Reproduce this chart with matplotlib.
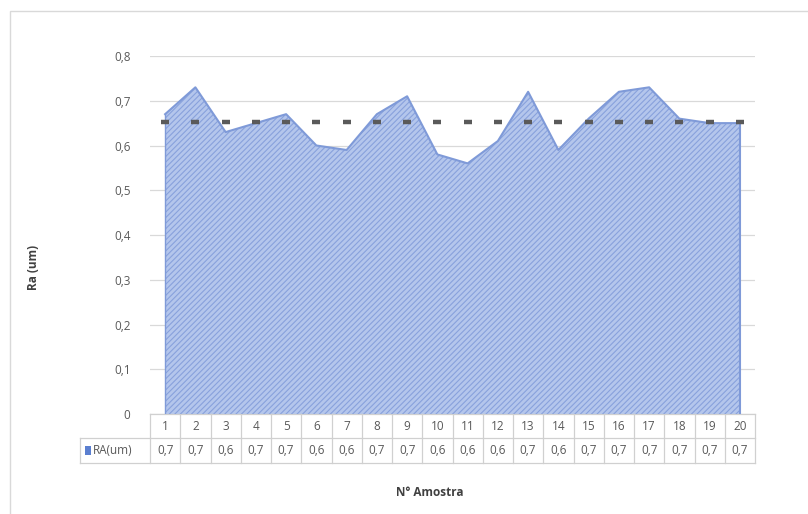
import matplotlib
matplotlib.use("Agg")
import matplotlib.pyplot as plt
import matplotlib.transforms as mtransforms
from matplotlib.patches import Rectangle
from decimal import Decimal, ROUND_HALF_UP

# Surface roughness samples
amostras = list(range(1, 21))
ra_um = [0.67, 0.73, 0.63, 0.65, 0.67, 0.60, 0.59, 0.67, 0.71, 0.58,
         0.56, 0.61, 0.72, 0.59, 0.66, 0.72, 0.73, 0.66, 0.65, 0.65]
yticks = [0.0, 0.1, 0.2, 0.3, 0.4, 0.5, 0.6, 0.7, 0.8]
serie_nome = "RA(um)"
ylabel = "Ra (um)"
xlabel = "N° Amostra"

media = sum(ra_um) / len(ra_um)

def fmt1(v):
    d = Decimal(str(v)).quantize(Decimal("0.1"), rounding=ROUND_HALF_UP)
    return str(d).replace(".", ",")

def fmt_tick(v):
    return f"{v:.1f}".replace(".", ",") if v != 0 else "0"

plt.rcParams["font.family"] = ["Open Sans", "DejaVu Sans"]
plt.rcParams["hatch.linewidth"] = 0.8

FS = 8.5
W, H = 808, 514
fig = plt.figure(figsize=(W / 100, H / 100), dpi=100)
fig.patch.set_facecolor("white")

# chart border
fig.add_artist(Rectangle((10 / W, -0.02), 1.0, 1 - 11 / H + 0.02,
                         transform=fig.transFigure, fill=False,
                         edgecolor="#d9d9d9", linewidth=1.0))

x0, x1, y0, y1 = 150, 755, 414, 56
ax = fig.add_axes([x0 / W, 1 - y0 / H, (x1 - x0) / W, (y0 - y1) / H])
ax.set_xlim(0.5, 20.5)
ax.set_ylim(0, 0.8)
for s in ax.spines.values():
    s.set_visible(False)

ax.set_yticks(yticks)
ax.set_yticklabels([fmt_tick(v) for v in yticks])
ax.tick_params(axis="y", length=0, pad=14, labelsize=FS, labelcolor="#595959")
ax.set_xticks([])
ax.yaxis.grid(True, color="#d9d9d9", linewidth=0.9)
ax.set_axisbelow(True)

# hatched area series
ax.fill_between(amostras, ra_um, 0, facecolor="#b4c6ec", edgecolor="none", zorder=2)
ax.fill_between(amostras, ra_um, 0, facecolor="none", edgecolor="#88a1dc",
                hatch="//////", linewidth=0, zorder=3)
ax.plot(amostras, ra_um, color="#7f9ad8", linewidth=1.5, zorder=4)
ax.plot([1, 1], [0, ra_um[0]], color="#7f9ad8", linewidth=1.0, zorder=4)
ax.plot([20, 20], [0, ra_um[-1]], color="#7f9ad8", linewidth=1.5, zorder=4)

# mean markers
ax.plot(amostras, [media] * len(amostras), linestyle="none", marker="_",
        markersize=5.5, markeredgewidth=3.2, color="#5a5a5a", zorder=5)

ax.set_ylabel(ylabel, fontsize=FS, fontweight="bold", color="#404040")
ax.yaxis.set_label_coords((40 - x0) / (x1 - x0), 0.41)

# data table under the plot
trans = mtransforms.blended_transform_factory(ax.transData, ax.transAxes)
hpx = y0 - y1
r0, r1, r2 = 0.0, -24 / hpx, -49 / hpx
legx = 0.5 + (80 - x0) / ((x1 - x0) / 20)
gc = "#d0d0d0"
kw = dict(transform=trans, color=gc, linewidth=0.9, clip_on=False)
ax.plot([0.5, 20.5], [r0, r0], **kw)
ax.plot([legx, 20.5], [r1, r1], **kw)
ax.plot([legx, 20.5], [r2, r2], **kw)
for i in range(21):
    ax.plot([0.5 + i, 0.5 + i], [r0, r2], **kw)
ax.plot([legx, legx], [r1, r2], **kw)

tkw = dict(transform=trans, ha="center", va="center", fontsize=FS,
           color="#595959", clip_on=False)
for a, v in zip(amostras, ra_um):
    ax.text(a, (r0 + r1) / 2, str(a), **tkw)
    ax.text(a, (r1 + r2) / 2, fmt1(v), **tkw)

ax.add_patch(Rectangle((legx + 0.18, (r1 + r2) / 2 - 0.012), 0.2, 0.024,
                       transform=trans, facecolor="#5b7fd0", edgecolor="none",
                       clip_on=False))
ax.text(legx + 0.43, (r1 + r2) / 2, serie_nome, transform=trans, ha="left",
        va="center", fontsize=FS, color="#595959", clip_on=False)

fig.text(430 / W, 1 - 492 / H, xlabel, ha="center", va="center",
         fontsize=FS, fontweight="bold", color="#404040")

fig.savefig("out.png", dpi=100, facecolor="white")
